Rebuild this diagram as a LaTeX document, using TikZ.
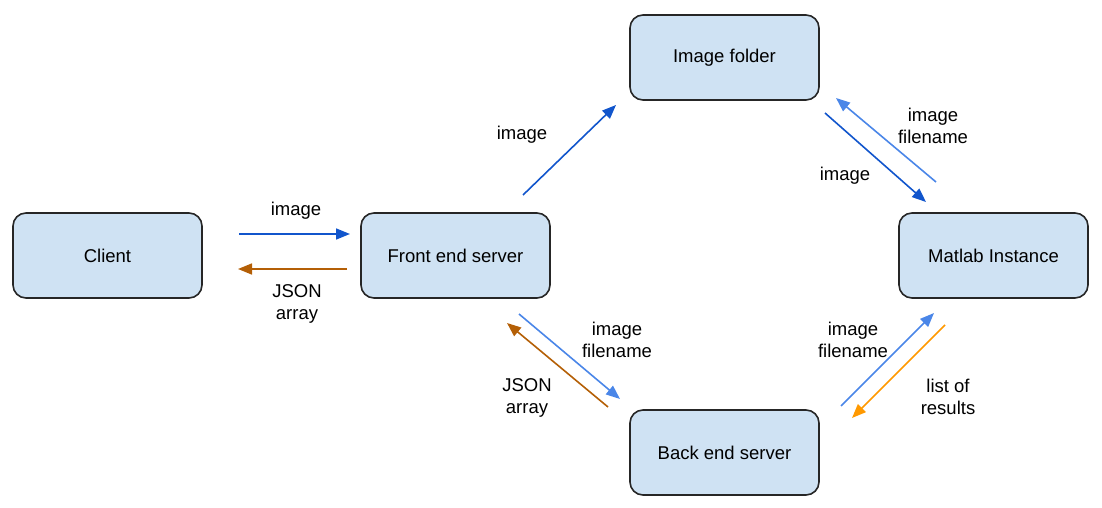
\documentclass[tikz,border=0pt]{standalone}
\usepackage{fontspec}
\setmainfont{Liberation Sans}
\usetikzlibrary{arrows.meta}
\definecolor{boxfill}{HTML}{CFE2F3}
\definecolor{dblue}{HTML}{1155CC}
\definecolor{lblue}{HTML}{4A86E8}
\definecolor{brown}{HTML}{B45F06}
\definecolor{orng}{HTML}{FF9900}
\tikzset{
  box/.style={draw=black!85, line width=1.6pt, fill=boxfill, rounded corners=13pt,
    minimum width=189pt, minimum height=85pt, inner sep=0pt,
    font=\fontsize{18.5}{22}\selectfont},
  lbl/.style={align=center, font=\fontsize{18.5}{22}\selectfont, inner sep=0pt},
  conn/.style={line width=1.6pt, -{Triangle[length=14pt,width=11pt]}},
}
\begin{document}
\begin{tikzpicture}[x=1pt,y=-1pt]
\useasboundingbox (0,0) rectangle (1102,508);
\node[box] (client) at (107.5,255.5) {Client};
\node[box] (front) at (455.5,255.5) {Front end server};
\node[box] (folder) at (724.5,57.5) {Image folder};
\node[box] (matlab) at (993.5,255.5) {Matlab Instance};
\node[box] (back) at (724.5,452.5) {Back end server};

\coordinate (a1) at (239,234); \coordinate (a2) at (350,234);
\coordinate (b1) at (347,269); \coordinate (b2) at (238,269);
\coordinate (c1) at (523,195); \coordinate (c2) at (616,105);
\coordinate (d1) at (825,113); \coordinate (d2) at (926,202);
\coordinate (e1) at (936,182); \coordinate (e2) at (836,98);
\coordinate (f1) at (519,314); \coordinate (f2) at (620,399);
\coordinate (g1) at (608,407); \coordinate (g2) at (507,323);
\coordinate (h1) at (841,406); \coordinate (h2) at (934,313);
\coordinate (i1) at (945,325); \coordinate (i2) at (852,418);

\draw[conn, dblue] (a1) -- (a2);
\draw[conn, brown] (b1) -- (b2);
\draw[conn, dblue] (c1) -- (c2);
\draw[conn, dblue] (d1) -- (d2);
\draw[conn, lblue] (e1) -- (e2);
\draw[conn, lblue] (f1) -- (f2);
\draw[conn, brown] (g1) -- (g2);
\draw[conn, lblue] (h1) -- (h2);
\draw[conn, orng] (i1) -- (i2);

\node[lbl] (la) at (296,211) {image};
\node[lbl] (lb) at (297,304) {JSON\\array};
\node[lbl] (lc) at (522,135) {image};
\node[lbl] (ld) at (845,176) {image};
\node[lbl] (le) at (933,126) {image\\filename};
\node[lbl] (lf) at (617,340) {image\\filename};
\node[lbl] (lg) at (527,398) {JSON\\array};
\node[lbl] (lh) at (853,340) {image\\filename};
\node[lbl] (li) at (948,397) {list of\\results};
\end{tikzpicture}
\end{document}
